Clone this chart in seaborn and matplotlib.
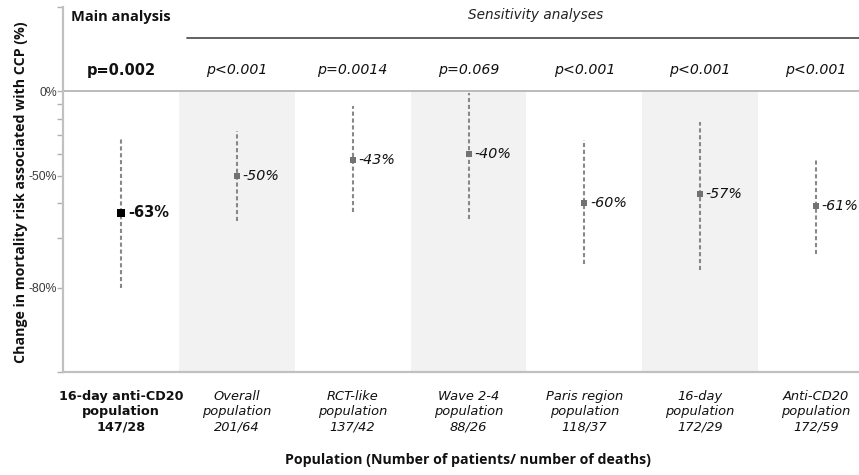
import numpy as np
import pandas as pd
import matplotlib
matplotlib.use("Agg")
import matplotlib.pyplot as plt
import matplotlib.transforms as mtransforms
import seaborn as sns

# Populations (x-axis tick labels)
populations = [
    "16-day anti-CD20\npopulation\n147/28",
    "Overall\npopulation\n201/64",
    "RCT-like\npopulation\n137/42",
    "Wave 2-4\npopulation\n88/26",
    "Paris region\npopulation\n118/37",
    "16-day\npopulation\n172/29",
    "Anti-CD20\npopulation\n172/59",
]
# Change in mortality risk (%) and 95% CI bounds expressed as hazard ratios
pct_change = [-63, -50, -43, -40, -60, -57, -61]
ci_low = [0.20, 0.344, 0.373, 0.352, 0.242, 0.231, 0.264]
ci_high = [0.69, 0.72, 0.887, 0.99, 0.67, 0.78, 0.579]
p_values = ["p=0.002", "p<0.001", "p=0.0014", "p=0.069", "p<0.001", "p<0.001", "p<0.001"]
analysis = ["Main"] + ["Sensitivity"] * 6

df = pd.DataFrame({
    "population": populations,
    "pos": np.arange(len(populations)),
    "pct": pct_change,
    "hr": [1 + p / 100 for p in pct_change],
    "lo": ci_low,
    "hi": ci_high,
    "analysis": analysis,
})

sns.set_theme(style="white")
plt.rcParams["font.family"] = ["DejaVu Sans"]

fig = plt.figure(figsize=(8.59, 4.75), dpi=100)
W, H = 859, 475
ax_left, ax_right, ax_top, ax_bottom = 63, 874, 7, 372
ax = fig.add_axes([ax_left / W, 1 - ax_bottom / H,
                   (ax_right - ax_left) / W, (ax_bottom - ax_top) / H])

ax.set_yscale("log")
ax.set_ylim(0.1, 2.0)
ax.set_xlim(-0.5, len(populations) - 0.5)

# alternating shaded columns below the reference line
for i in (1, 3, 5):
    ax.fill_between([i - 0.5, i + 0.5], 0.1, 1.0, color="#f2f2f2", lw=0, zorder=0)

# reference line at no change
ax.axhline(1.0, color="#b5b5b5", lw=1.3, zorder=1)

# confidence intervals
ax.vlines(df["pos"], df["lo"], df["hi"], colors="#888888", lw=1.5,
          linestyles=(0, (2.0, 1.3)), zorder=2)

main = df[df["analysis"] == "Main"]
sens = df[df["analysis"] == "Sensitivity"]
sns.scatterplot(data=main, x="pos", y="hr", marker="s", s=36, color="black",
                edgecolor="black", linewidth=0, ax=ax, zorder=3, legend=False)
sns.scatterplot(data=sens, x="pos", y="hr", marker="s", s=13, color="#727272",
                edgecolor="#727272", linewidth=0, ax=ax, zorder=3, legend=False)

# value labels next to the estimates
for _, r in df.iterrows():
    bold = r["analysis"] == "Main"
    ax.annotate(f"{r['pct']}%", (r["pos"], r["hr"]), xytext=(5 if bold else 4, 0),
                textcoords="offset points", va="center", ha="left",
                fontsize=10.5 if bold else 10.3,
                fontweight="bold" if bold else "normal",
                fontstyle="normal" if bold else "italic", color="#111111",
                zorder=4, clip_on=False)

# header texts above the plot
trans = mtransforms.blended_transform_factory(ax.transData, ax.transAxes)
def yfrac(ypx):
    return (ax_bottom - ypx) / (ax_bottom - ax_top)

for i, p in enumerate(p_values):
    bold = i == 0
    ax.text(i, yfrac(70), p, transform=trans, ha="center", va="center",
            fontsize=10.5 if bold else 10.2,
            fontweight="bold" if bold else "normal",
            fontstyle="normal" if bold else "italic", color="#111111")

ax.text(0, yfrac(17), "Main analysis", transform=trans, ha="center", va="center",
        fontsize=10.5, fontweight="bold", family=["Open Sans", "DejaVu Sans"],
        color="#111111")
ax.text(3.58, yfrac(15), "Sensitivity analyses", transform=trans, ha="center",
        va="center", fontsize=9.8, fontstyle="italic", color="#222222")
ax.plot([0.57, len(populations) - 0.5], [yfrac(37.7)] * 2, transform=trans,
        color="#555555", lw=1.3, clip_on=False)

# y axis: percentage change on a log hazard-ratio scale
ax.set_yticks([1.0, 0.5, 0.2])
ax.set_yticklabels(["0%", "-50%", "-80%"], family=["Liberation Sans", "DejaVu Sans"],
                   fontsize=8.8, color="#3a3a3a")
ax.set_yticks([2.0, 0.9, 0.8, 0.7, 0.6, 0.4, 0.3, 0.1], minor=True)
ax.yaxis.set_minor_formatter(matplotlib.ticker.NullFormatter())
ax.tick_params(axis="y", which="both", direction="out", length=4, width=1,
               color="#b0b0b0", left=True, pad=0)

# x axis: populations
ax.set_xticks(df["pos"])
ax.set_xticklabels(df["population"], fontsize=9.4, linespacing=1.2, color="#111111")
for i, lbl in enumerate(ax.get_xticklabels()):
    if i == 0:
        lbl.set_fontweight("bold")
        lbl.set_fontsize(9.2)
    else:
        lbl.set_fontstyle("italic")
ax.tick_params(axis="x", length=0, pad=13)

for side in ("top", "right"):
    ax.spines[side].set_visible(False)
for side in ("left", "bottom"):
    ax.spines[side].set_color("#c0c0c0")
    ax.spines[side].set_linewidth(1.6)

ax.set_xlabel("Population (Number of patients/ number of deaths)", fontsize=10.2,
              fontweight="bold", family=["Open Sans", "DejaVu Sans"], color="#111111")
ax.xaxis.set_label_coords((468 - ax_left) / (ax_right - ax_left), yfrac(453), transform=ax.transAxes)
ax.set_ylabel("Change in mortality risk associated with CCP (%)", fontsize=10.2,
              fontweight="bold", family=["Open Sans", "DejaVu Sans"], color="#111111")
ax.yaxis.set_label_coords((28 - ax_left) / (ax_right - ax_left), yfrac(192))

fig.savefig("out.png", dpi=100)
